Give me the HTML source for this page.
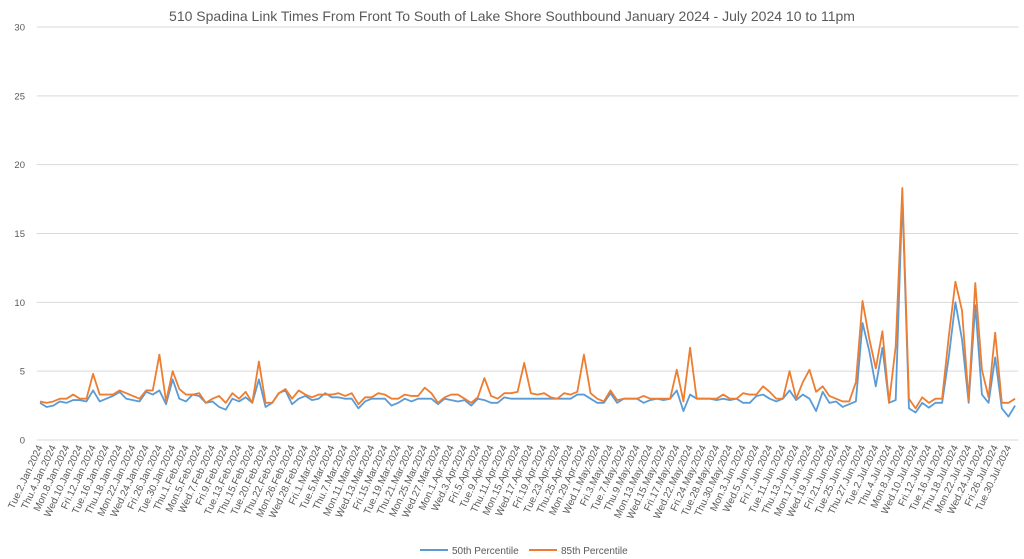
<!DOCTYPE html>
<html><head><meta charset="utf-8">
<style>
html,body{margin:0;padding:0;background:#fff;}
svg{display:block;font-family:"Liberation Sans",sans-serif;}
</style></head>
<body>
<svg id="chart" width="1024" height="559" viewBox="0 0 1024 559">
<text x="512" y="21" text-anchor="middle" font-size="14" fill="#595959">510 Spadina Link Times From Front To South of Lake Shore Southbound January 2024 - July 2024 10 to 11pm</text>
<g id="grid"></g><g id="yticks"></g><g id="xticks"></g><g id="series"></g>
<g>
<line x1="420" y1="550" x2="448" y2="550" stroke="#5b9bd5" stroke-width="2"/>
<text x="452" y="554" font-size="10" fill="#595959">50th Percentile</text>
<line x1="529" y1="550" x2="557" y2="550" stroke="#ed7d31" stroke-width="2"/>
<text x="561" y="554" font-size="10" fill="#595959">85th Percentile</text>
</g>
</svg>
<script>
const yTicks=[0,5,10,15,20,25,30];
const startDate="2024-01-02";
const endDate="2024-07-31";
const holidays=["2024-02-19","2024-03-29","2024-05-20","2024-07-01"];
const p50=[2.7,2.4,2.5,2.8,2.7,2.9,2.9,2.8,3.6,2.8,3.0,3.2,3.5,3.0,2.9,2.8,3.5,3.3,3.6,2.6,4.4,3.0,2.8,3.3,3.2,2.7,2.8,2.4,2.2,3.0,2.8,3.1,2.7,4.4,2.4,2.7,3.4,3.6,2.6,3.0,3.2,2.9,3.0,3.4,3.1,3.1,3.0,3.0,2.3,2.8,3.0,3.0,3.0,2.5,2.7,3.0,2.8,3.0,3.0,3.0,2.6,3.0,2.9,2.8,2.9,2.5,3.0,2.9,2.7,2.7,3.1,3.0,3.0,3.0,3.0,3.0,3.0,3.0,3.0,3.0,3.0,3.3,3.3,3.0,2.7,2.7,3.4,2.7,3.0,3.0,3.0,2.7,2.9,3.0,2.9,3.0,3.6,2.1,3.3,3.0,3.0,3.0,2.9,3.0,2.9,3.0,2.7,2.7,3.2,3.3,3.0,2.8,3.0,3.6,2.9,3.3,3.0,2.1,3.5,2.7,2.8,2.4,2.6,2.8,8.5,6.5,3.9,6.7,2.7,2.9,17.7,2.3,2.0,2.7,2.35,2.7,2.7,6.0,10.0,7.3,2.7,9.8,3.3,2.7,6.0,2.3,1.7,2.5];
const p85=[2.8,2.7,2.8,3.0,3.0,3.3,3.0,3.0,4.8,3.3,3.3,3.3,3.6,3.4,3.2,3.0,3.6,3.6,6.2,2.8,5.0,3.7,3.3,3.3,3.4,2.7,3.0,3.2,2.7,3.4,3.0,3.5,2.7,5.7,2.7,2.7,3.4,3.7,3.0,3.6,3.3,3.1,3.3,3.3,3.3,3.4,3.2,3.4,2.6,3.1,3.1,3.4,3.3,3.0,3.0,3.3,3.2,3.2,3.8,3.4,2.7,3.1,3.3,3.3,3.0,2.7,3.1,4.5,3.2,3.0,3.4,3.4,3.5,5.6,3.4,3.3,3.4,3.1,3.0,3.4,3.3,3.5,6.2,3.4,3.0,2.8,3.6,2.9,3.0,3.0,3.0,3.2,3.0,3.0,3.0,3.0,5.1,2.8,6.7,3.0,3.0,3.0,3.0,3.3,3.0,3.0,3.4,3.3,3.3,3.9,3.5,3.0,3.0,5.0,3.0,4.2,5.1,3.5,3.9,3.2,3.0,2.8,2.8,4.2,10.1,7.4,5.2,7.9,2.7,6.8,18.3,3.0,2.3,3.1,2.7,3.0,3.0,7.5,11.5,9.4,2.9,11.4,5.1,3.1,7.8,2.7,2.7,3.0];

const days=["Sun","Mon","Tue","Wed","Thu","Fri","Sat"];
const months=["Jan","Feb","Mar","Apr","May","Jun","Jul","Aug","Sep","Oct","Nov","Dec"];
const categories=[];
(function(){
  let d=new Date(startDate+"T12:00:00Z"),e=new Date(endDate+"T12:00:00Z");
  while(d<=e){
    const w=d.getUTCDay(),iso=d.toISOString().slice(0,10);
    if(w!==0&&w!==6&&holidays.indexOf(iso)<0)
      categories.push(days[w]+"."+d.getUTCDate()+"."+months[d.getUTCMonth()]+".2024");
    d=new Date(d.getTime()+86400000);
  }
})();

const NS="http://www.w3.org/2000/svg";
const L=36.7,R=1018.4,T=27,B=440,yMax=30;
const n=categories.length;
function xPos(i){return L+(R-L)*(i+0.5)/n;}
function yPos(v){return B-(v/yMax)*(B-T);}
function mk(tag,attrs,parent){const el=document.createElementNS(NS,tag);for(const k in attrs)el.setAttribute(k,attrs[k]);parent.appendChild(el);return el;}

const grid=document.getElementById("grid"),yt=document.getElementById("yticks"),xt=document.getElementById("xticks"),sg=document.getElementById("series");
yTicks.forEach(v=>{
  const ln=mk("line",{x1:L,x2:R,y1:yPos(v),y2:yPos(v),stroke:"#d9d9d9","stroke-width":1},grid);
  
  
  const t=mk("text",{x:25,y:yPos(v)+3.5,"text-anchor":"end","font-size":"9.5",fill:"#595959"},yt);
  t.textContent=v;
  
  
});
for(let i=0;i<n;i+=2){
  const x=xPos(i)+3,y=447;
  const t=mk("text",{x:x,y:y,"text-anchor":"end","font-size":"10",fill:"#595959",transform:"rotate(-65 "+x+" "+y+")"},xt);
  t.textContent=categories[i];
  
  
}
function drawLine(vals,color,name){
  const pts=vals.map((v,i)=>xPos(i).toFixed(2)+","+yPos(v).toFixed(2)).join(" ");
  const pl=mk("polyline",{points:pts,fill:"none",stroke:color,"stroke-width":1.8,"stroke-linejoin":"round"},sg);
  
  
}
drawLine(p50,"#5b9bd5","series-50th-percentile");
drawLine(p85,"#ed7d31","series-85th-percentile");
</script>
</body></html>
